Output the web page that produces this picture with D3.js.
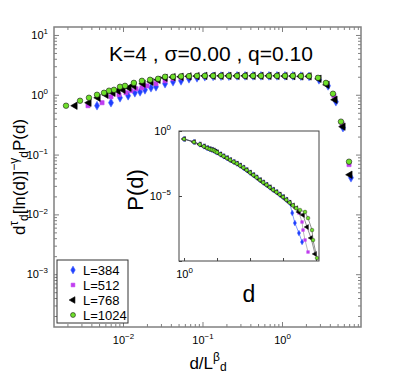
<!DOCTYPE html>
<html>
<head>
<meta charset="utf-8">
<script src="https://cdn.jsdelivr.net/npm/d3@7"></script>
<style>
  body { margin: 0; background: #fff; }
  svg { font-family: "Liberation Sans", Arial, sans-serif; }
</style>
</head>
<body>
<div id="chart"></div>
<script>
// ---- data ----
const seriesNames = ["L=384", "L=512", "L=768", "L=1024"];

// main panel: scaled distribution vs d / L^beta
// shared log-binned x positions in the plateau
const plateauX = [0.0338, 0.0426, 0.0537, 0.0676, 0.0853, 0.107, 0.136, 0.171, 0.215, 0.272,
  0.343, 0.432, 0.544, 0.686, 0.865, 1.09, 1.37, 1.73, 2.19];

const headX384 = [0.00471, 0.00706, 0.00917, 0.0116, 0.0141, 0.0164, 0.0189, 0.0225, 0.0260];
const headY384 = [0.656, 0.736, 0.891, 0.962, 1.08, 1.12, 1.21, 1.31, 1.36];
const plateauY384 = [1.53, 1.65, 1.71, 1.85, 1.92, 2.0, 2.03, 2.05, 2.05, 2.07, 2.07, 2.07, 2.07, 2.07, 2.07, 2.07, 2.07, 2.05, 2.03];
const tailX384 = [2.92, 3.80, 4.77, 5.85, 7.38];
const tailY384 = [1.78, 1.41, 0.765, 0.282, 0.041];

const headX512 = [0.00363, 0.00545, 0.00706, 0.00891, 0.0109, 0.0126, 0.0146, 0.0173, 0.0201, 0.0260];
const headY512 = [0.656, 0.736, 0.926, 1.0, 1.08, 1.17, 1.26, 1.31, 1.41, 1.53];
const plateauY512 = [1.71, 1.85, 1.92, 2.0, 2.03, 2.05, 2.07, 2.07, 2.07, 2.07, 2.07, 2.07, 2.07, 2.07, 2.07, 2.07, 2.07, 2.05, 2.03];
const tailX512 = [2.84, 3.68, 4.51, 5.69, 6.97];
const tailY512 = [1.92, 1.53, 0.962, 0.329, 0.068];

const headX768 = [0.00249, 0.00373, 0.00485, 0.00611, 0.00748, 0.00865, 0.0100, 0.0119, 0.0137, 0.0179, 0.0225, 0.0276];
const headY768 = [0.656, 0.736, 0.891, 1.0, 1.08, 1.17, 1.21, 1.31, 1.41, 1.53, 1.65, 1.78];
const plateauY768 = [1.92, 1.97, 2.0, 2.03, 2.05, 2.07, 2.07, 2.07, 2.07, 2.07, 2.07, 2.07, 2.07, 2.07, 2.07, 2.05, 2.05, 2.03, 2.03];
const tailX768 = [2.92, 3.68, 4.64, 5.85, 7.16];
const tailY768 = [1.85, 1.47, 0.825, 0.293, 0.046];

const headX1024 = [0.00192, 0.00288, 0.00373, 0.00471, 0.00577, 0.00667, 0.00770, 0.00917, 0.0106, 0.0137, 0.0173, 0.0219, 0.0276];
const headY1024 = [0.656, 0.794, 0.891, 1.0, 1.08, 1.17, 1.21, 1.36, 1.41, 1.58, 1.71, 1.78, 1.85];
const plateauY1024 = [2.0, 2.0, 2.03, 2.05, 2.07, 2.07, 2.07, 2.07, 2.07, 2.07, 2.07, 2.07, 2.07, 2.07, 2.07, 2.07, 2.07, 2.05, 2.05];
const tailX1024 = [2.84, 3.57, 4.38, 5.52, 6.97];
const tailY1024 = [1.92, 1.58, 1.04, 0.355, 0.076];

// inset: P(d) vs d, common trunk then size-dependent cutoffs
const trunkD = [1, 2, 3, 4, 5, 6, 7, 8, 9, 10, 12.6, 15.8, 20, 25, 32, 40, 50, 63, 79, 100,
  126, 158, 200, 251, 316, 398, 501, 631, 794, 1000, 1259, 1585, 1995, 2512];
const trunkP = [0.243, 0.143, 0.093, 0.066, 0.049, 0.041, 0.036, 0.032, 0.026, 0.023, 0.016, 0.0115,
  0.0083, 0.0059, 0.0042, 0.0031, 0.0022, 0.0015, 0.0010, 6.3e-4, 4.1e-4, 2.7e-4, 1.7e-4, 1.1e-4,
  7.2e-5, 4.7e-5, 3.0e-5, 2.0e-5, 1.3e-5, 8.4e-6, 5.1e-6, 3.1e-6, 1.9e-6, 1.15e-6];
const trunkLen = [32, 34, 34, 34]; // how many trunk points each L keeps
const cutD384 = [1900, 2290, 3040, 3780];
const cutP384 = [4.9e-7, 8.3e-8, 1.4e-8, 2.9e-9];
const cutD512 = [3055, 3767, 4036, 4645, 5722];
const cutP512 = [4.9e-7, 1.0e-7, 2.4e-8, 4.1e-9, 4.9e-10];
const cutD768 = [3000, 4036, 5333, 7047, 9330];
const cutP768 = [5.9e-7, 3.5e-7, 4.1e-8, 5.9e-9, 3.5e-10];
const cutD1024 = [3273, 4645, 5722, 7568, 8110, 10715];
const cutP1024 = [8.3e-7, 5.9e-7, 2.0e-7, 2.4e-8, 4.1e-9, 1.7e-10];

// ---- build series ----
const zip = (xs, ys) => xs.map((v, i) => ({ x: v, y: ys[i] }));
const mainSeries = [
  zip(headX384.concat(plateauX, tailX384), headY384.concat(plateauY384, tailY384)),
  zip(headX512.concat(plateauX, tailX512), headY512.concat(plateauY512, tailY512)),
  zip(headX768.concat(plateauX, tailX768), headY768.concat(plateauY768, tailY768)),
  zip(headX1024.concat(plateauX, tailX1024), headY1024.concat(plateauY1024, tailY1024)),
];
const cuts = [[cutD384, cutP384], [cutD512, cutP512], [cutD768, cutP768], [cutD1024, cutP1024]];
const insetSeries = cuts.map((c, i) =>
  zip(trunkD.slice(0, trunkLen[i]).concat(c[0]), trunkP.slice(0, trunkLen[i]).concat(c[1])));

const styles = [
  { sym: d3.symbolDiamond, size: 22, rot: 0, fill: "#1f3fff", stroke: "#4f6cff", line: "#3355ff" },
  { sym: d3.symbolSquare, size: 17, rot: 0, fill: "#c03cf0", stroke: "#c03cf0", line: "#888" },
  { sym: d3.symbolTriangle, size: 24, rot: -90, fill: "#000", stroke: "#000", line: "#444" },
  { sym: d3.symbolCircle, size: 24, rot: 0, fill: "#6ee02a", stroke: "#1a1a1a", line: "#444" },
];

// ---- svg ----
const W = 399, H = 374;
const svg = d3.select("#chart").append("svg").attr("width", W).attr("height", H);

const main = { left: 54, right: 361, top: 27, bottom: 327 };
const x = d3.scaleLog().domain([Math.pow(10, -2.868), Math.pow(10, 0.994)]).range([main.left, main.right]);
const y = d3.scaleLog().domain([Math.pow(10, -3.883), Math.pow(10, 1.133)]).range([main.bottom, main.top]);

const inset = { left: 179, right: 319, top: 131, bottom: 261 };
const xi = d3.scaleLog().domain([Math.pow(10, -0.152), Math.pow(10, 4.09)]).range([inset.left, inset.right]);
const yi = d3.scaleLog().domain([1e-10, 1]).range([inset.bottom, inset.top]);

function allTicks(scale) {
  const [a, b] = scale.domain();
  const out = [];
  for (let e = Math.floor(Math.log10(a)); e <= Math.ceil(Math.log10(b)); e++) {
    for (let k = 1; k < 10; k++) {
      const v = k * Math.pow(10, e);
      if (v >= a && v <= b) out.push(v);
    }
  }
  return out;
}
const isMajor = v => Math.abs(Math.log10(v) - Math.round(Math.log10(v))) < 1e-6;

// draws an axis with inward ticks; minor ticks shorter
function drawAxis(gen, translate, attr, values, majorLen, minorLen, labelled, fontSize, color) {
  gen.tickValues(values).tickSizeInner(-majorLen).tickSizeOuter(0).tickFormat(() => "");
  const g = svg.append("g").attr("transform", translate).call(gen);
  g.select(".domain").remove();
  g.attr("font-family", null).attr("font-size", fontSize);
  g.selectAll(".tick line").attr("stroke", color).each(function (d) {
    const sel = d3.select(this);
    const sign = Math.sign(+sel.attr(attr));
    if (!isMajor(d)) sel.attr(attr, sign * minorLen);
  });
  g.selectAll(".tick text").attr("fill", "#000").each(function (d) {
    if (!isMajor(d) || !labelled(d)) return;
    const e = Math.round(Math.log10(d));
    const t = d3.select(this);
    t.append("tspan").text("10");
    t.append("tspan").attr("dy", "-0.6em").attr("font-size", "0.72em").text(e < 0 ? "\u2212" + (-e) : e);
  });
  return g;
}

// main frame + axes
const axisColor = "#808080";
const xt = allTicks(x), yt = allTicks(y);
drawAxis(d3.axisBottom(x).tickPadding(9), `translate(0,${main.bottom})`, "y2", xt, 5, 3, () => true, 11, axisColor);
drawAxis(d3.axisTop(x), `translate(0,${main.top})`, "y2", xt, 5, 3, () => false, 11, axisColor);
drawAxis(d3.axisLeft(y).tickPadding(6), `translate(${main.left},0)`, "x2", yt, 5, 3, () => true, 11, axisColor);
drawAxis(d3.axisRight(y), `translate(${main.right},0)`, "x2", yt, 5, 3, () => false, 11, axisColor);
svg.append("rect")
  .attr("x", main.left).attr("y", main.top)
  .attr("width", main.right - main.left).attr("height", main.bottom - main.top)
  .attr("fill", "none").attr("stroke", axisColor).attr("stroke-width", 1.5);

// main markers
mainSeries.forEach((s, i) => {
  const st = styles[i];
  svg.append("g").selectAll("path")
    .data(s)
    .join("path")
    .attr("d", d3.symbol().type(st.sym).size(st.size))
    .attr("transform", d => `translate(${x(d.x)},${y(d.y)}) rotate(${st.rot})`)
    .attr("fill", st.fill)
    .attr("stroke", st.stroke)
    .attr("stroke-width", 0.6);
});

// title
svg.append("text")
  .attr("x", 211).attr("y", 61)
  .attr("text-anchor", "middle")
  .attr("font-size", 21)
  .text("K=4 , \u03c3=0.00 , q=0.10");

// axis titles
const yl = svg.append("text")
  .attr("transform", `translate(25,177) rotate(-90)`)
  .attr("text-anchor", "middle")
  .attr("font-size", 17);
yl.append("tspan").text("d");
yl.append("tspan").attr("font-size", 12).attr("dy", -7).text("\u03c4");
yl.append("tspan").attr("font-size", 12).attr("dy", 10).text("d");
yl.append("tspan").attr("dy", -3).text("[ln(d)]");
yl.append("tspan").attr("font-size", 12).attr("dy", -7).text("\u2212\u03b3");
yl.append("tspan").attr("font-size", 12).attr("dy", 10).text("d");
yl.append("tspan").attr("dy", -3).text("P(d)");

const xl = svg.append("text")
  .attr("x", 208).attr("y", 369)
  .attr("text-anchor", "middle")
  .attr("font-size", 17);
xl.append("tspan").text("d/L");
xl.append("tspan").attr("font-size", 12).attr("dy", -8).text("\u03b2");
xl.append("tspan").attr("font-size", 12).attr("dy", 10).text("d");

// legend
const lg = svg.append("g");
lg.append("rect").attr("x", 57).attr("y", 260).attr("width", 71).attr("height", 63)
  .attr("fill", "#fff").attr("stroke", "#333").attr("stroke-width", 1);
seriesNames.forEach((name, i) => {
  const st = styles[i];
  const yy = 270 + i * 15;
  lg.append("path")
    .attr("d", d3.symbol().type(st.sym).size(st.size * 0.8))
    .attr("transform", `translate(73,${yy}) rotate(${st.rot})`)
    .attr("fill", st.fill).attr("stroke", st.stroke).attr("stroke-width", 0.6);
  lg.append("text").attr("x", 83).attr("y", yy + 5).attr("font-size", 13).text(name);
});

// inset
svg.append("rect")
  .attr("x", inset.left).attr("y", inset.top)
  .attr("width", inset.right - inset.left).attr("height", inset.bottom - inset.top)
  .attr("fill", "#fff");
const onlyY = d => [0, -5].includes(Math.round(Math.log10(d)));
drawAxis(d3.axisLeft(yi).tickPadding(8), `translate(${inset.left},0)`, "x2", [1e-10, 1e-5, 1], 3, 0, onlyY, 11, "#444");
drawAxis(d3.axisBottom(xi).tickPadding(9), `translate(0,${inset.bottom})`, "y2", [1, 10, 100, 1000, 10000], 3, 0, d => d === 1, 11, "#444");

const line = d3.line().x(d => xi(d.x)).y(d => yi(d.y));
insetSeries.forEach((s, i) => {
  const st = styles[i];
  svg.append("path").datum(s).attr("d", line)
    .attr("fill", "none").attr("stroke", st.line).attr("stroke-width", 0.6);
  svg.append("g").selectAll("path")
    .data(s)
    .join("path")
    .attr("d", d3.symbol().type(st.sym).size(st.size * 0.45))
    .attr("transform", d => `translate(${xi(d.x)},${yi(d.y)}) rotate(${st.rot})`)
    .attr("fill", st.fill)
    .attr("stroke", st.stroke)
    .attr("stroke-width", 0.4);
});
svg.append("rect")
  .attr("x", inset.left).attr("y", inset.top)
  .attr("width", inset.right - inset.left).attr("height", inset.bottom - inset.top)
  .attr("fill", "none").attr("stroke", "#444").attr("stroke-width", 1);

svg.append("text")
  .attr("transform", "translate(143,190) rotate(-90)")
  .attr("text-anchor", "middle").attr("font-size", 22).text("P(d)");
svg.append("text")
  .attr("x", 249).attr("y", 302)
  .attr("text-anchor", "middle").attr("font-size", 23).text("d");
</script>
</body>
</html>
